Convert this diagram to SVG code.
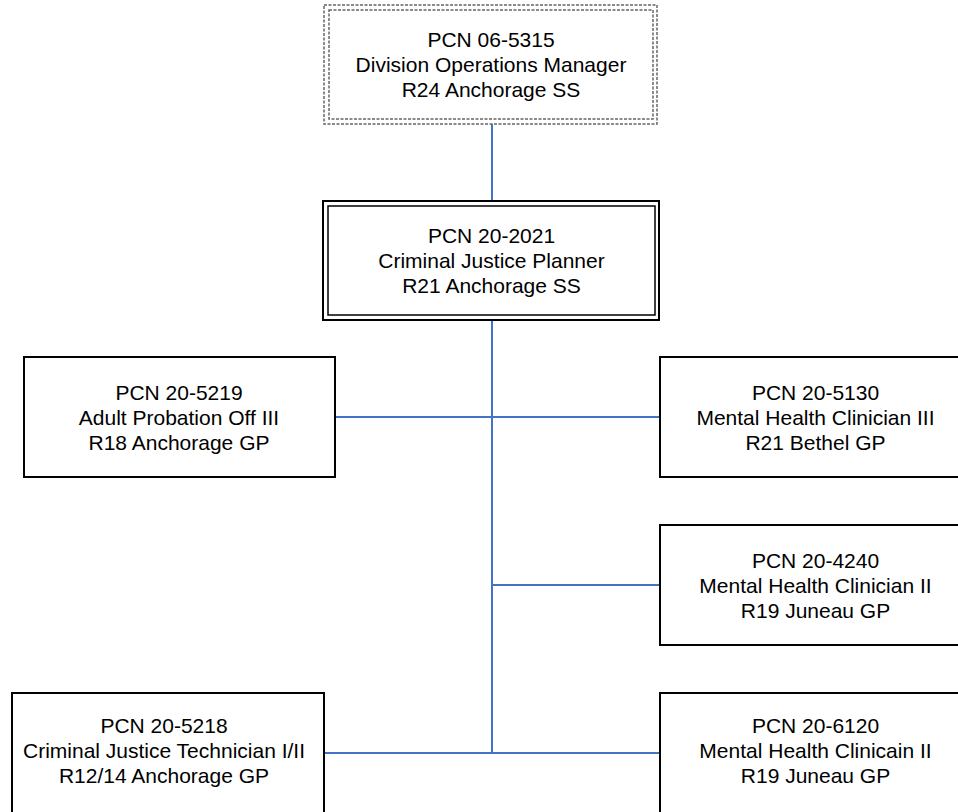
<svg xmlns="http://www.w3.org/2000/svg" width="958" height="812" viewBox="0 0 958 812">
<style>
text{font-family:"Liberation Sans",Arial,sans-serif;font-size:21px;fill:#000;text-anchor:middle}
.box{fill:#fff;stroke:#000;stroke-width:2}
.inner{fill:none;stroke:#000;stroke-width:1.5}
.dash{fill:#fff;stroke:#666;stroke-width:1.5;stroke-dasharray:3 1.5}
.dashin{fill:none;stroke:#666;stroke-width:1.5;stroke-dasharray:3 1.5}
.conn{fill:none;stroke:#4472c4;stroke-width:2}
</style>
<rect width="958" height="812" fill="#fff"/>
<g id="connectors">
<line class="conn" x1="492" y1="124" x2="492" y2="201"/>
<line class="conn" x1="492" y1="320" x2="492" y2="753"/>
<line class="conn" x1="335" y1="417" x2="660" y2="417"/>
<line class="conn" x1="492" y1="585" x2="660" y2="585"/>
<line class="conn" x1="324" y1="753" x2="660" y2="753"/>
</g>
<g id="n1">
<rect class="dash" x="324" y="5" width="333" height="119"/>
<rect class="dashin" x="329" y="10" width="324" height="109"/>
<text x="491" y="47">PCN 06-5315</text>
<text x="491" y="72">Division Operations Manager</text>
<text x="491" y="97">R24 Anchorage SS</text>
</g>
<g id="n2">
<rect class="box" x="323" y="201" width="336" height="119"/>
<rect class="inner" x="328" y="206" width="327" height="109"/>
<text x="491.5" y="243">PCN 20-2021</text>
<text x="491.5" y="268">Criminal Justice Planner</text>
<text x="491.5" y="293">R21 Anchorage SS</text>
</g>
<g id="n3">
<rect class="box" x="24" y="357" width="311" height="120"/>
<text x="179" y="399.5">PCN 20-5219</text>
<text x="179" y="424.5">Adult Probation Off III</text>
<text x="179" y="449.5">R18 Anchorage GP</text>
</g>
<g id="n4">
<rect class="box" x="660" y="357" width="311" height="120"/>
<text x="815.5" y="399.5">PCN 20-5130</text>
<text x="815.5" y="424.5">Mental Health Clinician III</text>
<text x="815.5" y="449.5">R21 Bethel GP</text>
</g>
<g id="n5">
<rect class="box" x="660" y="525" width="311" height="120"/>
<text x="815.5" y="567.5">PCN 20-4240</text>
<text x="815.5" y="592.5">Mental Health Clinician II</text>
<text x="815.5" y="617.5">R19 Juneau GP</text>
</g>
<g id="n6">
<rect class="box" x="12" y="693" width="312" height="130"/>
<text x="164" y="733">PCN 20-5218</text>
<text x="164" y="758">Criminal Justice Technician I/II</text>
<text x="164" y="783">R12/14 Anchorage GP</text>
</g>
<g id="n7">
<rect class="box" x="660" y="693" width="311" height="130"/>
<text x="815.5" y="733">PCN 20-6120</text>
<text x="815.5" y="758">Mental Health Clinicain II</text>
<text x="815.5" y="783">R19 Juneau GP</text>
</g>
</svg>
